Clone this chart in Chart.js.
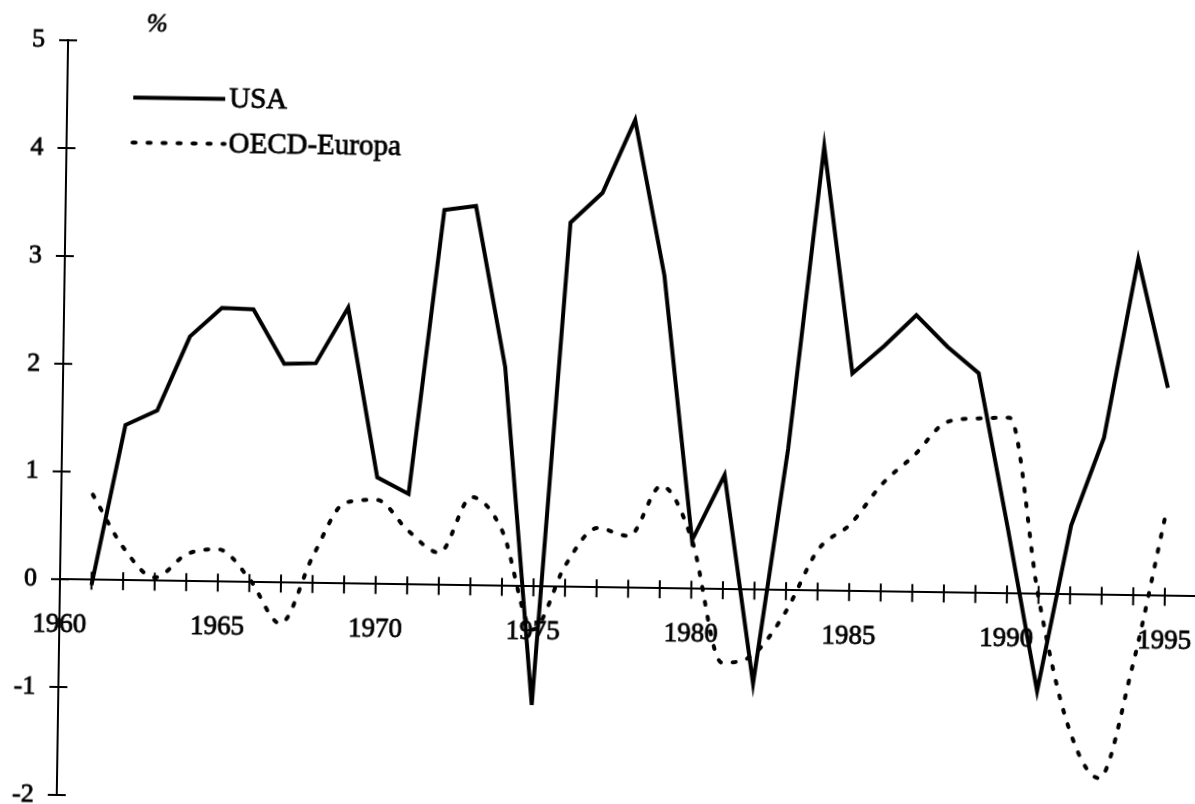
<!DOCTYPE html>
<html><head><meta charset="utf-8">
<script src="https://cdn.jsdelivr.net/npm/chart.js@4/dist/chart.umd.min.js"></script>
<style>
html,body{margin:0;padding:0;background:#fff;overflow:hidden;width:1195px;height:804px;}
#wrap{position:absolute;left:0;top:0;width:1200px;height:804px;transform:rotate(0.86deg);transform-origin:60px 579.3px;}
canvas{display:block;}
</style></head><body>
<div id="wrap"><canvas id="c" width="1200" height="804"></canvas></div>
<script>
// ---- data ----
const years = [1961,1962,1963,1964,1965,1966,1967,1968,1969,1970,1971,1972,1973,1974,1975,1976,1977,1978,1979,1980,1981,1982,1983,1984,1985,1986,1987,1988,1989,1990,1991,1992,1993,1994,1995];
const usa  = [-0.05,1.44,1.58,2.27,2.54,2.53,2.03,2.04,2.56,0.99,0.84,3.48,3.52,2.03,-1.1,3.38,3.66,4.34,2.9,0.45,1.06,-0.87,1.31,4.12,2.02,2.28,2.57,2.28,2.04,0.6,-0.9,0.64,1.46,3.12,1.93];
const oecd = [0.79,0.30,0.03,0.25,0.30,0.03,-0.38,0.25,0.75,0.78,0.50,0.30,0.82,0.50,-0.40,0.20,0.55,0.48,0.95,0.45,-0.68,-0.60,-0.20,0.38,0.62,1.00,1.27,1.58,1.62,1.63,-0.03,-1.22,-1.70,-0.67,0.77];
const xTickLabels = [1960,1965,1970,1975,1980,1985,1990,1995];
const yTicks = [-2,-1,0,1,2,3,4,5];
const seriesNames = ['USA','OECD-Europa'];
const unitLabel = '%';

const serif = "'Liberation Serif','Times New Roman',serif";

const noPad = s => { s.paddingLeft = 0; s.paddingRight = 0; s.paddingTop = 0; s.paddingBottom = 0; };

const crossTicks = {
  id: 'crossTicks',
  beforeDatasetsDraw(chart) {
    const ctx = chart.ctx, xs = chart.scales.x, ys = chart.scales.y;
    const y0 = ys.getPixelForValue(0), x0 = xs.getPixelForValue(xs.min);
    ctx.save();
    ctx.strokeStyle = '#000'; ctx.lineWidth = 2;
    ctx.beginPath();
    years.forEach(yr => { const px = xs.getPixelForValue(yr); ctx.moveTo(px, y0 - 8); ctx.lineTo(px, y0 + 10); });
    yTicks.forEach(v => { const py = ys.getPixelForValue(v); ctx.moveTo(x0 - 9, py); ctx.lineTo(x0 + 9, py); });
    ctx.stroke();
    ctx.restore();
  },
  afterDraw(chart) {
    const ctx = chart.ctx;
    ctx.save();
    ctx.fillStyle = '#000'; ctx.strokeStyle = '#000';
    // unit label
    ctx.font = "italic 25px " + serif;
    ctx.textAlign = 'center'; ctx.textBaseline = 'middle';
    ctx.lineWidth = 0.8;
    ctx.fillText(unitLabel, 149, 23);
    ctx.strokeText(unitLabel, 149, 23);
    // legend
    const rows = [96.5, 141.5];
    chart.data.datasets.forEach((ds, i) => {
      const y = rows[i];
      ctx.beginPath();
      ctx.strokeStyle = ds.borderColor; ctx.lineWidth = ds.borderWidth;
      ctx.setLineDash(ds.borderDash || []);
      ctx.lineCap = ds.borderCapStyle || 'butt';
      ctx.moveTo(126, y); ctx.lineTo(218, y);
      ctx.stroke();
      ctx.setLineDash([]);
      ctx.lineCap = 'butt';
      ctx.font = "29px " + serif;
      ctx.textAlign = 'left'; ctx.textBaseline = 'middle';
      ctx.lineWidth = 0.8;
      ctx.fillText(ds.label, 222, y + 0.5);
      ctx.strokeText(ds.label, 222, y + 0.5);
    });
    ctx.restore();
  }
};

new Chart(document.getElementById('c'), {
  type: 'line',
  data: {
    datasets: [
      { label: seriesNames[0], data: years.map((yr, i) => ({x: yr, y: usa[i]})),
        borderColor: '#000', borderWidth: 4, pointRadius: 0, tension: 0, borderJoinStyle: 'miter', fill: false },
      { label: seriesNames[1], data: years.map((yr, i) => ({x: yr, y: oecd[i]})),
        borderColor: '#000', borderWidth: 4, pointRadius: 0, borderDash: [3, 12], borderCapStyle: 'round',
        cubicInterpolationMode: 'monotone', fill: false }
    ]
  },
  options: {
    responsive: false, animation: false, events: [],
    layout: { padding: { top: 40.3, bottom: 9.1, left: 0, right: 3.5 } },
    plugins: { legend: { display: false }, tooltip: { enabled: false }, title: { display: false } },
    scales: {
      x: {
        type: 'linear', min: 1960, max: 1996, position: { y: 0 },
        grid: { display: false, drawTicks: false },
        border: { display: true, color: '#000', width: 2 },
        ticks: { stepSize: 1, autoSkip: false, maxRotation: 0, minRotation: 0, padding: 29,
          color: '#000', textStrokeColor: '#000', textStrokeWidth: 0.8,
          font: { family: serif, size: 27 },
          callback: v => xTickLabels.includes(v) ? String(v) : '' },
        afterFit: s => { s.height = 0; noPad(s); }
      },
      y: {
        type: 'linear', min: -2, max: 5, position: 'left',
        grid: { display: false, drawTicks: false },
        border: { display: true, color: '#000', width: 2 },
        ticks: { stepSize: 1, padding: 23, color: '#000', textStrokeColor: '#000', textStrokeWidth: 0.8,
          font: { family: serif, size: 26 } },
        afterFit: s => { s.width = 60; noPad(s); }
      }
    }
  },
  plugins: [crossTicks]
});
</script>
</body></html>
